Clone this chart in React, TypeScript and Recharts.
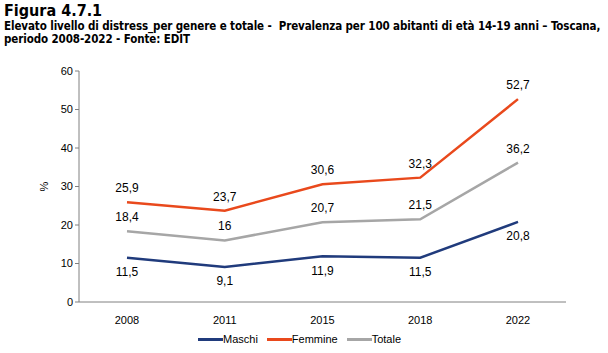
import { LineChart, Line, XAxis, YAxis, LabelList } from "recharts";

const years = ["2008", "2011", "2015", "2018", "2022"];
const maschi = [11.5, 9.1, 11.9, 11.5, 20.8];
const femmine = [25.9, 23.7, 30.6, 32.3, 52.7];
const totale = [18.4, 16, 20.7, 21.5, 36.2];
const yTicks = [0, 10, 20, 30, 40, 50, 60];

const data = years.map((y, i) => ({
  year: y,
  maschi: maschi[i],
  femmine: femmine[i],
  totale: totale[i],
}));

const series = [
  { key: "maschi", name: "Maschi", color: "#203B7C", pos: "bottom" },
  { key: "femmine", name: "Femmine", color: "#E9491C", pos: "top" },
  { key: "totale", name: "Totale", color: "#A6A6A6", pos: "top" },
];

const fmt = (v: any) => String(v).replace(".", ",");
const axisFont = { fontFamily: "Liberation Sans, Arial, sans-serif", fontSize: 11, fill: "#000" };

export default function App() {
  return (
    <div style={{ position: "absolute", left: 0, top: 0, width: 608, height: 353, background: "#fff" }}>
      <div
        style={{
          position: "absolute",
          left: 4,
          top: 2,
          fontFamily: "DejaVu Sans Condensed, DejaVu Sans, sans-serif",
          fontWeight: "bold",
          color: "#000",
        }}
      >
        <div style={{ fontSize: 16, lineHeight: "18px" }}>Figura 4.7.1</div>
        <div style={{ fontSize: 11.5, lineHeight: "13px", letterSpacing: -0.1, whiteSpace: "nowrap" }}>
          Elevato livello di distress_per genere e totale -&nbsp; Prevalenza per 100 abitanti di età 14-19 anni – Toscana,
          <br />
          periodo 2008-2022 - Fonte: EDIT
        </div>
      </div>
      <div style={{ position: "absolute", left: 0, top: 0 }}>
        <LineChart width={608} height={353} data={data} margin={{ top: 71, right: 42, left: 39, bottom: 21 }}>
          <XAxis
            dataKey="year"
            tick={axisFont}
            tickLine={false}
            axisLine={{ stroke: "#808080" }}
            height={30}
            tickMargin={8}
            padding={{ left: 48, right: 48 }}
          />
          <YAxis
            domain={[0, 60]}
            ticks={yTicks}
            tick={axisFont}
            tickLine={{ stroke: "#808080" }}
            tickSize={4}
            axisLine={{ stroke: "#808080" }}
            width={40}
            interval={0}
            label={{
              value: "%",
              angle: -90,
              position: "insideLeft",
              dx: 0,
              style: { ...axisFont, textAnchor: "middle" },
            }}
          />
          {series.map((s) => (
            <Line
              key={s.key}
              dataKey={s.key}
              name={s.name}
              stroke={s.color}
              strokeWidth={2.5}
              dot={false}
              type="linear"
              isAnimationActive={false}
            >
              <LabelList
                dataKey={s.key}
                position={s.pos as any}
                offset={10}
                formatter={fmt}
                style={{ fontFamily: "Liberation Sans, Arial, sans-serif", fontSize: 12, fill: "#000" }}
              />
            </Line>
          ))}
        </LineChart>
      </div>
      <div
        style={{
          position: "absolute",
          top: 333,
          left: 198,
          display: "flex",
          fontFamily: "Liberation Sans, Arial, sans-serif",
          fontSize: 11,
          color: "#000",
        }}
      >
        {series.map((s) => (
          <div key={s.key} style={{ display: "flex", alignItems: "center", marginRight: 9 }}>
            <div style={{ width: 25, height: 3, background: s.color }} />
            <span>{s.name}</span>
          </div>
        ))}
      </div>
    </div>
  );
}
